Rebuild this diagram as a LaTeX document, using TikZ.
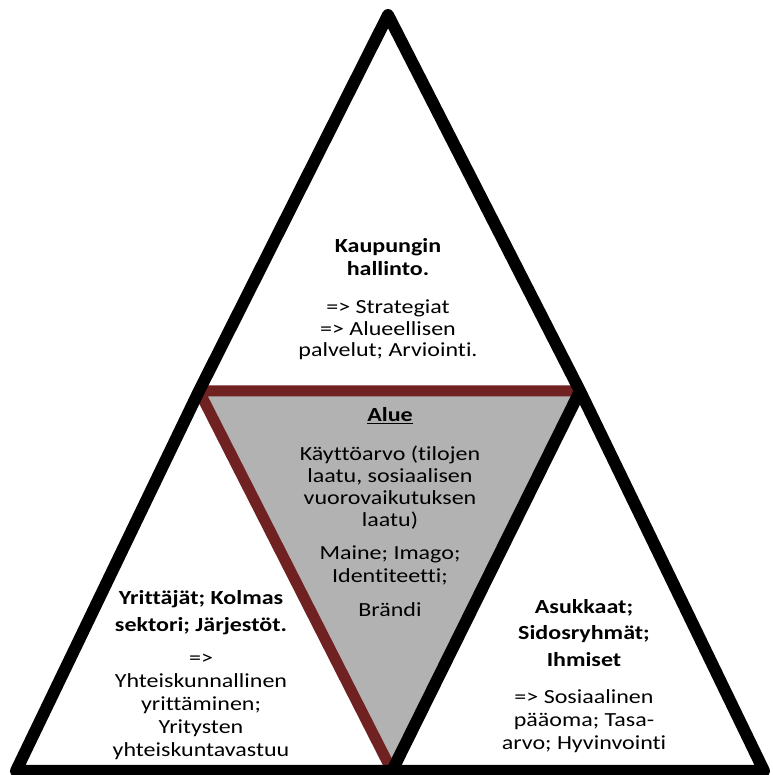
\documentclass[tikz,border=0pt]{standalone}
\usepackage{fontspec}
\setmainfont{Carlito}[Ligatures=NoCommon, FakeStretch=1.2]
\usepackage{tikz}
\definecolor{alueharmaa}{RGB}{178,178,178}
\definecolor{reunapunainen}{RGB}{112,33,33}
\tikzset{every node/.append style={align=center, inner sep=0pt, anchor=north}}
\tikzset{tiivis/.style={font=\fontsize{20}{21.5}\selectfont},
  harva/.style={font=\fontsize{20}{23}\selectfont}}
\tikzset{reuna/.style={line width=12pt, line join=round}}

\begin{document}
\begin{tikzpicture}[x=1pt,y=1pt]
  \useasboundingbox (0,0) rectangle (772,775);

  \coordinate (huippu) at (388,760);
  \coordinate (vasala) at (16,4);
  \coordinate (oikala) at (764,4);
  \coordinate (vaskeski) at (199,384);
  \coordinate (oikkeski) at (580,384);
  \coordinate (alakeski) at (392,4);

  % keskimmainen kolmio
  \fill[alueharmaa] (vaskeski) -- (oikkeski) -- (alakeski) -- cycle;
  \draw[reuna, line width=11pt, reunapunainen] (oikkeski) -- (vaskeski) -- (alakeski);
%  \draw[reuna] (vaskeski) -- (oikkeski);
  \draw[reuna] (vasala) -- (vaskeski) -- (huippu) -- (oikkeski) -- (oikala) -- cycle;
  \draw[reuna] (oikkeski) -- (alakeski);

  \node[tiivis] (hallinto) at (388,537) {\textbf{Kaupungin}\\[1.5pt] \textbf{hallinto.}\\[17pt]
    => Strategiat\\ => Alueellisen\\ palvelut; Arviointi.};
  \node[harva] (alue) at (390,368) {\textbf{\underline{Alue}}\\[16pt]
    Käyttöarvo (tilojen\\[-1pt] laatu, sosiaalisen\\[-1pt] vuorovaikutuksen\\[-1pt] laatu)\\[10pt]
    Maine; Imago;\\ Identiteetti;\\[11pt] Brändi};
  \node[harva] (yrittajat) at (201,185) {\textbf{Yrittäjät; Kolmas}\\[4pt] \textbf{sektori; Järjestöt.}\\[10pt]
    =>\\ Yhteiskunnallinen\\ yrittäminen;\\ Yritysten\\ yhteiskuntavastuu};
  \node[harva] (asukkaat) at (584,176) {\textbf{Asukkaat;}\\[3pt] \textbf{Sidosryhmät;}\\[4pt] \textbf{Ihmiset}\\[14pt]
    => Sosiaalinen\\ pääoma; Tasa-\\ arvo; Hyvinvointi};
\end{tikzpicture}
\end{document}
